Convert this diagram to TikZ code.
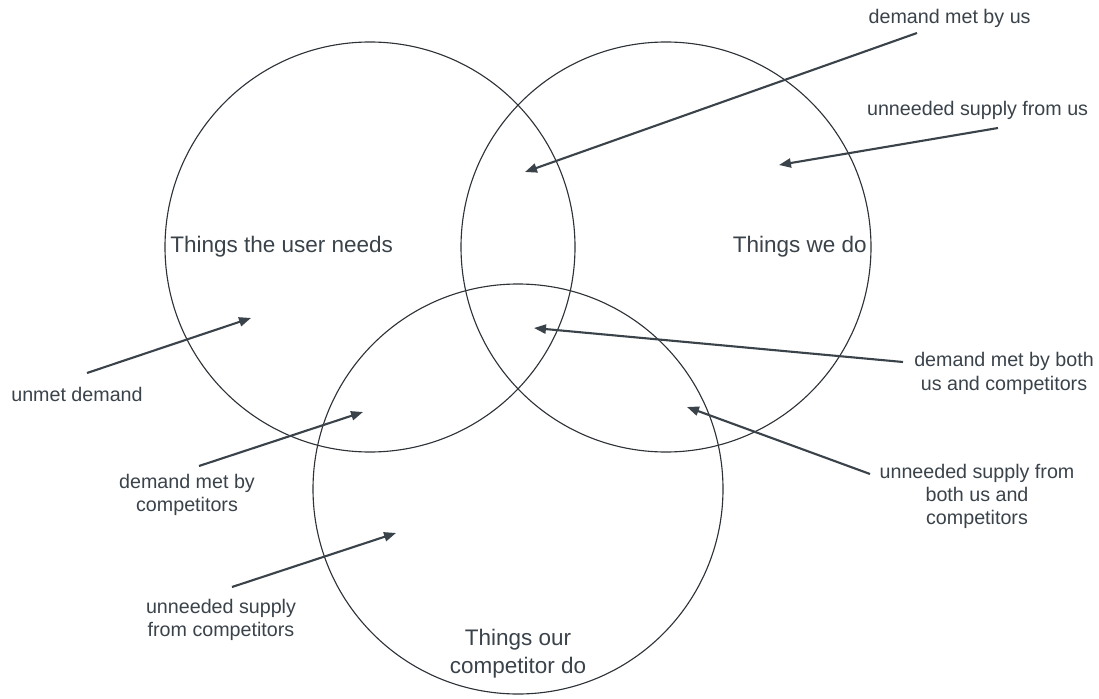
\documentclass[tikz,border=0pt]{standalone}
\usepackage{fontspec}
\setmainfont{Liberation Sans}
\usepackage{xcolor}
\usetikzlibrary{arrows.meta}
\definecolor{inkgray}{HTML}{3A424A}
\definecolor{ringgray}{HTML}{2E3338}

\begin{document}
\begin{tikzpicture}[>={Triangle[length=8.5pt,width=6.5pt]},
    ring/.style={draw=ringgray,line width=0.8pt},
    setname/.style={text=inkgray,inner sep=0pt,align=center,font=\fontsize{16}{20}\selectfont},
    region/.style={text=inkgray,inner sep=0pt,align=center,font=\fontsize{14}{16.7}\selectfont},
    pointer/.style={->,draw=inkgray,line width=1.5pt}]
  \useasboundingbox (0,0) rectangle (27.475,17.45);
  % the three sets
  \draw[ring] (9.25,11.275) circle (5.125);
  \draw[ring] (16.65,11.275) circle (5.125);
  \draw[ring] (12.95,5.225) circle (5.125);
  \node[setname,anchor=west] (needs) at (4.25,11.275) {Things the user needs};
  \node[setname,anchor=east] (wedo) at (21.675,11.275) {Things we do};
  \node[setname] (theydo) at (12.95,1.1) {Things our\\competitor do};
  % region labels
  \node[region] (metus) at (23.74,16.997) {demand met by us};
  \node[region] (extraus) at (24.44,14.7) {unneeded supply from us};
  \node[region] (unmet) at (1.925,7.6) {unmet demand};
  \node[region] (metboth) at (25.1,8.11) {demand met by both\\us and competitors};
  \node[region] (metthem) at (4.675,5.075) {demand met by\\competitors};
  \node[region] (extraboth) at (24.425,5.04) {unneeded supply from\\both us and\\competitors};
  \node[region] (extrathem) at (5.525,1.95) {unneeded supply\\from competitors};
  % arrow ends
  \coordinate (metus-s) at (22.925,16.625);   \coordinate (metus-t) at (13.125,13.15);
  \coordinate (extraus-s) at (24.95,14.25);   \coordinate (extraus-t) at (19.475,13.325);
  \coordinate (unmet-s) at (2.175,8.125);     \coordinate (unmet-t) at (6.275,9.5);
  \coordinate (metboth-s) at (22.575,8.4);    \coordinate (metboth-t) at (13.35,9.25);
  \coordinate (metthem-s) at (4.975,5.8);     \coordinate (metthem-t) at (9.075,7.15);
  \coordinate (extraboth-s) at (21.75,5.6);   \coordinate (extraboth-t) at (17.175,7.275);
  \coordinate (extrathem-s) at (5.8,2.775);   \coordinate (extrathem-t) at (9.9,4.125);
  \foreach \r in {metus,extraus,unmet,metboth,metthem,extraboth,extrathem}
    \draw[pointer] (\r-s) -- (\r-t);
\end{tikzpicture}
\end{document}
